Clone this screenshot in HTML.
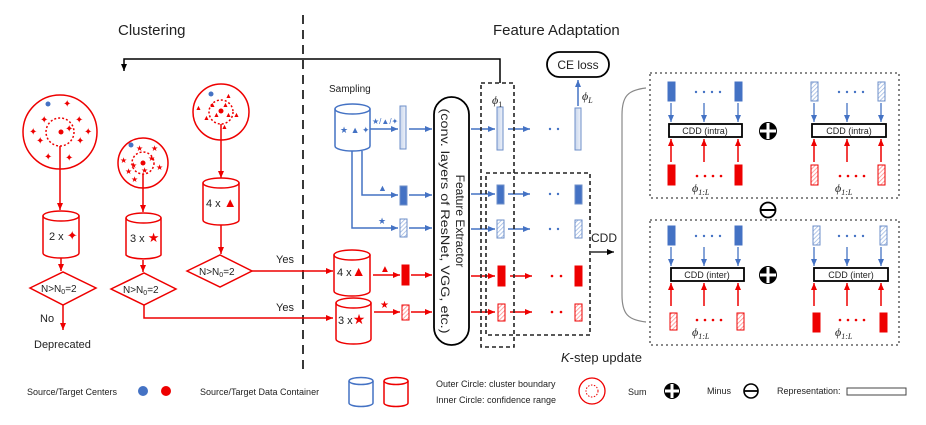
<!DOCTYPE html>
<html><head><meta charset="utf-8"><style>
html,body{margin:0;padding:0;background:#fff;}
svg{display:block;font-family:"Liberation Sans",sans-serif;}
</style></head><body>
<svg width="926" height="425" viewBox="0 0 926 425" xmlns="http://www.w3.org/2000/svg">
<defs>
<marker id="ar" markerWidth="8" markerHeight="8" refX="7" refY="4" orient="auto" markerUnits="userSpaceOnUse"><path d="M0,1 L7,4 L0,7z" fill="#e00"/></marker>
<marker id="ab" markerWidth="8" markerHeight="8" refX="7" refY="4" orient="auto" markerUnits="userSpaceOnUse"><path d="M0,1 L7,4 L0,7z" fill="#4472c4"/></marker>
<marker id="ak" markerWidth="8" markerHeight="8" refX="7" refY="4" orient="auto" markerUnits="userSpaceOnUse"><path d="M0,1 L7,4 L0,7z" fill="#000"/></marker>
<pattern id="hr" width="3" height="3" patternUnits="userSpaceOnUse" patternTransform="rotate(45)"><rect width="3" height="3" fill="#fff"/><line x1="0" y1="0" x2="0" y2="3" stroke="#f88" stroke-width="1.5"/></pattern>
<pattern id="hb" width="3" height="3" patternUnits="userSpaceOnUse" patternTransform="rotate(45)"><rect width="3" height="3" fill="#fff"/><line x1="0" y1="0" x2="0" y2="3" stroke="#9bb5e0" stroke-width="1.5"/></pattern>
<linearGradient id="gb" x1="0" x2="1"><stop offset="0" stop-color="#c9d6ec"/><stop offset="1" stop-color="#eef2fa"/></linearGradient>
</defs>

<text x="118" y="35" font-size="15" fill="#222">Clustering</text>
<text x="493" y="35" font-size="15" fill="#222">Feature Adaptation</text>
<line x1="303" y1="15" x2="303" y2="372" stroke="#222" stroke-width="1.8" stroke-dasharray="9,6"/>

<polyline points="500,83 500,59 124,59 124,71" fill="none" stroke="#000" stroke-width="1.5" marker-end="url(#ak)"/>

<g stroke="#e00" fill="none" stroke-width="1.5">
<circle cx="60" cy="132" r="37"/>
<circle cx="60" cy="132" r="14" stroke-dasharray="2,2"/>
<line x1="60" y1="146" x2="60" y2="210" marker-end="url(#ar)"/>
<path d="M43,216 v37 a18,5 0 0 0 36,0 v-37"/><ellipse cx="61" cy="216" rx="18" ry="5"/>
<line x1="61" y1="258" x2="61" y2="271" marker-end="url(#ar)"/>
<polygon points="30,288 63,272 96,288 63,305"/>
<line x1="63" y1="305" x2="63" y2="330" marker-end="url(#ar)"/>
<circle cx="143" cy="163" r="25"/>
<circle cx="143" cy="163" r="11" stroke-dasharray="2,2"/>
<line x1="143" y1="174" x2="143" y2="212" marker-end="url(#ar)"/>
<path d="M126,218 v37 a18,5 0 0 0 35,0 v-37"/><ellipse cx="143.5" cy="218" rx="17.5" ry="5"/>
<line x1="143" y1="260" x2="143" y2="272" marker-end="url(#ar)"/>
<polygon points="111,289 144,273 176,289 144,305"/>
<polyline points="144,305 144,318 333,318" marker-end="url(#ar)"/>
<circle cx="221" cy="112" r="28"/>
<circle cx="221" cy="112" r="12" stroke-dasharray="2,2"/>
<line x1="221" y1="124" x2="221" y2="178" marker-end="url(#ar)"/>
<path d="M203,183 v37 a18,5 0 0 0 36,0 v-37"/><ellipse cx="221" cy="183" rx="18" ry="5"/>
<line x1="221" y1="225" x2="221" y2="254" marker-end="url(#ar)"/>
<polygon points="187,271 220,255 252,271 220,287"/>
<line x1="252" y1="271" x2="333" y2="271" marker-end="url(#ar)"/>
</g>
<g fill="#e00" font-size="10">
<circle cx="61" cy="132" r="2.5"/><circle cx="143" cy="163" r="2.5"/><circle cx="221" cy="111" r="2.5"/>
<text x="63" y="107">✦</text><text x="40" y="123">✦</text><text x="75" y="123">✦</text><text x="29" y="135">✦</text><text x="84" y="135">✦</text><text x="65" y="132">✦</text><text x="36" y="144">✦</text><text x="76" y="144">✦</text><text x="44" y="160">✦</text><text x="65" y="161">✦</text>
<text x="136" y="151" font-size="8">★</text><text x="151" y="151" font-size="8">★</text><text x="120" y="163" font-size="8">★</text><text x="148" y="161" font-size="8">★</text><text x="130" y="168" font-size="8">★</text><text x="156" y="170" font-size="8">★</text><text x="125" y="174" font-size="8">★</text><text x="141" y="173" font-size="8">★</text><text x="131" y="182" font-size="8">★</text>
<text x="225" y="98" font-size="7">▲</text><text x="195" y="110" font-size="7">▲</text><text x="209" y="107" font-size="7">▲</text><text x="222" y="107" font-size="7">▲</text><text x="203" y="120" font-size="7">▲</text><text x="213" y="117" font-size="7">▲</text><text x="225" y="117" font-size="7">▲</text><text x="233" y="117" font-size="7">▲</text><text x="221" y="129" font-size="7">▲</text>
</g>
<g fill="#4472c4"><circle cx="48" cy="104" r="2.5"/><circle cx="131" cy="145" r="2.5"/><circle cx="211" cy="94" r="2.5"/></g>
<g font-size="11" fill="#222">
<text x="49" y="240">2 x <tspan fill="#e00" font-size="13">✦</tspan></text>
<text x="130" y="242">3 x <tspan fill="#e00" font-size="13">★</tspan></text>
<text x="206" y="207">4 x <tspan fill="#e00" font-size="13">▲</tspan></text>
<text x="41" y="292" font-size="10">N&gt;N<tspan font-size="7" dy="2">0</tspan><tspan dy="-2">=2</tspan></text>
<text x="123" y="293" font-size="10">N&gt;N<tspan font-size="7" dy="2">0</tspan><tspan dy="-2">=2</tspan></text>
<text x="199" y="275" font-size="10">N&gt;N<tspan font-size="7" dy="2">0</tspan><tspan dy="-2">=2</tspan></text>
<text x="40" y="322">No</text>
<text x="34" y="348">Deprecated</text>
<text x="276" y="263">Yes</text>
<text x="276" y="311">Yes</text>
<text x="329" y="92" font-size="10">Sampling</text>
</g>

<g stroke="#4472c4" fill="none" stroke-width="1.5">
<path d="M335,109 v37 a17.5,5 0 0 0 35,0 v-37"/><ellipse cx="352.5" cy="109" rx="17.5" ry="5"/>
<line x1="370" y1="129" x2="398" y2="129" marker-end="url(#ab)"/>
<polyline points="362,151 362,195 398,195" marker-end="url(#ab)"/>
<polyline points="352,151 352,228 398,228" marker-end="url(#ab)"/>
<line x1="409" y1="129" x2="432" y2="129" marker-end="url(#ab)"/>
<line x1="409" y1="195" x2="432" y2="195" marker-end="url(#ab)"/>
<line x1="409" y1="228" x2="432" y2="228" marker-end="url(#ab)"/>
<line x1="471" y1="129" x2="495" y2="129" marker-end="url(#ab)"/>
<line x1="471" y1="194" x2="495" y2="194" marker-end="url(#ab)"/>
<line x1="471" y1="229" x2="495" y2="229" marker-end="url(#ab)"/>
<line x1="508" y1="129" x2="530" y2="129" marker-end="url(#ab)"/>
<line x1="508" y1="194" x2="530" y2="194" marker-end="url(#ab)"/>
<line x1="508" y1="229" x2="530" y2="229" marker-end="url(#ab)"/>
<line x1="578" y1="106" x2="578" y2="80" marker-end="url(#ab)"/>
</g>
<g fill="#4472c4" font-size="9">
<text x="340" y="133">★ ▲ ✦</text>
<text x="372" y="124" font-size="8">★/▲/✦</text>
<text x="378" y="191" font-size="9">▲</text>
<text x="378" y="224" font-size="9">★</text>
</g>
<g stroke="#6e8fc9" stroke-width="1">
<rect x="400" y="106" width="6" height="43" fill="url(#gb)"/>
<rect x="400" y="186" width="7" height="19" fill="#4472c4"/>
<rect x="400" y="219" width="7" height="18" fill="url(#hb)"/>
<rect x="497" y="107" width="6" height="43" fill="url(#gb)"/>
<rect x="575" y="108" width="6" height="42" fill="url(#gb)"/>
<rect x="497" y="185" width="7" height="19" fill="#4472c4"/>
<rect x="575" y="185" width="7" height="19" fill="#4472c4"/>
<rect x="497" y="220" width="7" height="18" fill="url(#hb)"/>
<rect x="575" y="220" width="7" height="18" fill="url(#hb)"/>
</g>
<g fill="#4472c4"><circle cx="550" cy="129" r="1.2"/><circle cx="558" cy="129" r="1.2"/><circle cx="550" cy="194" r="1.2"/><circle cx="558" cy="194" r="1.2"/><circle cx="550" cy="229" r="1.2"/><circle cx="558" cy="229" r="1.2"/></g>

<g stroke="#e00" fill="none" stroke-width="1.5">
<path d="M334,255 v36 a18,5 0 0 0 36,0 v-36"/><ellipse cx="352" cy="255" rx="18" ry="5"/>
<path d="M336,303 v36 a17.5,5 0 0 0 35,0 v-36"/><ellipse cx="353.5" cy="303" rx="17.5" ry="5"/>
<line x1="373" y1="275" x2="400" y2="275" marker-end="url(#ar)"/>
<line x1="374" y1="312" x2="400" y2="312" marker-end="url(#ar)"/>
<line x1="411" y1="275" x2="432" y2="275" marker-end="url(#ar)"/>
<line x1="411" y1="312" x2="432" y2="312" marker-end="url(#ar)"/>
<line x1="471" y1="276" x2="495" y2="276" marker-end="url(#ar)"/>
<line x1="471" y1="312" x2="495" y2="312" marker-end="url(#ar)"/>
<line x1="510" y1="276" x2="532" y2="276" marker-end="url(#ar)"/>
<line x1="510" y1="312" x2="532" y2="312" marker-end="url(#ar)"/>
</g>
<g fill="#e00"><text x="380" y="272" font-size="10">▲</text><text x="380" y="308" font-size="10">★</text>
<circle cx="552" cy="276" r="1.3"/><circle cx="561" cy="276" r="1.3"/><circle cx="552" cy="312" r="1.3"/><circle cx="561" cy="312" r="1.3"/></g>
<g font-size="11" fill="#222"><text x="337" y="276">4 x<tspan fill="#e00" font-size="14">▲</tspan></text><text x="338" y="324">3 x<tspan fill="#e00" font-size="14">★</tspan></text></g>
<g stroke="#e00" stroke-width="1">
<rect x="402" y="265" width="7" height="20" fill="#e00"/>
<rect x="402" y="305" width="7" height="15" fill="url(#hr)"/>
<rect x="498" y="266" width="7" height="20" fill="#e00"/>
<rect x="575" y="266" width="7" height="20" fill="#e00"/>
<rect x="498" y="304" width="7" height="17" fill="url(#hr)"/>
<rect x="575" y="304" width="7" height="17" fill="url(#hr)"/>
</g>

<rect x="434" y="97" width="35" height="248" rx="17.5" fill="#fff" stroke="#000" stroke-width="1.8"/>
<g transform="translate(452,221) rotate(90)" font-size="12" fill="#222" text-anchor="middle">
<text x="0" y="-4">Feature Extractor</text>
<text x="0" y="11" textLength="225" lengthAdjust="spacingAndGlyphs">(conv. layers of ResNet, VGG, etc.)</text>
</g>

<g fill="none" stroke="#222" stroke-width="1.6" stroke-dasharray="4,3">
<rect x="481" y="83" width="33" height="264"/>
<rect x="486" y="173" width="104" height="162"/>
</g>
<text x="492" y="104" font-size="12" font-style="italic" fill="#222" font-family="Liberation Serif,serif">ϕ<tspan font-size="8" dy="3" font-style="normal">1</tspan></text>
<text x="582" y="100" font-size="12" font-style="italic" fill="#222" font-family="Liberation Serif,serif">ϕ<tspan font-size="8" dy="3">L</tspan></text>
<rect x="547" y="52" width="62" height="25" rx="12.5" fill="#fff" stroke="#000" stroke-width="1.8"/>
<text x="578" y="69" font-size="12" text-anchor="middle" fill="#222">CE loss</text>
<text x="591" y="242" font-size="12" fill="#222">CDD</text>
<line x1="591" y1="252" x2="614" y2="252" stroke="#000" stroke-width="1.3" marker-end="url(#ak)"/>
<text x="561" y="362" font-size="13" fill="#222"><tspan font-style="italic">K</tspan>-step update</text>

<path d="M646,88 C628,90 622,96 622,115 L622,295 C622,314 628,320 646,322" fill="none" stroke="#888" stroke-width="1.2"/>

<g fill="none" stroke="#444" stroke-width="1.3" stroke-dasharray="2,3">
<rect x="650" y="73" width="249" height="125"/>
<rect x="650" y="220" width="249" height="125"/>
</g>

<g id="grp">
<g stroke="#4472c4" stroke-width="1.3"><line x1="671" y1="103" x2="671" y2="122" marker-end="url(#ab)"/><line x1="704" y1="103" x2="704" y2="122" marker-end="url(#ab)"/><line x1="738" y1="103" x2="738" y2="122" marker-end="url(#ab)"/></g>
<g stroke="#e00" stroke-width="1.5"><line x1="671" y1="162" x2="671" y2="139" marker-end="url(#ar)"/><line x1="704" y1="162" x2="704" y2="139" marker-end="url(#ar)"/><line x1="738" y1="162" x2="738" y2="139" marker-end="url(#ar)"/></g>
<g fill="#4472c4"><circle cx="696" cy="92" r="1.2"/><circle cx="704" cy="92" r="1.2"/><circle cx="712" cy="92" r="1.2"/><circle cx="720" cy="92" r="1.2"/></g>
<g fill="#e00"><circle cx="697" cy="176" r="1.3"/><circle cx="705" cy="176" r="1.3"/><circle cx="713" cy="176" r="1.3"/><circle cx="721" cy="176" r="1.3"/></g>
<text x="692" y="192" font-size="12" font-style="italic" fill="#222" font-family="Liberation Serif,serif">ϕ<tspan font-size="8" dy="3">1:L</tspan></text>
</g>
<use href="#grp" x="143"/><use href="#grp" y="144"/><use href="#grp" x="143" y="144"/>

<g stroke-width="1">
<rect x="668" y="82" width="7" height="19" fill="#4472c4" stroke="#4472c4"/><rect x="735" y="82" width="7" height="19" fill="#4472c4" stroke="#4472c4"/>
<rect x="668" y="165" width="7" height="20" fill="#e00" stroke="#e00"/><rect x="735" y="165" width="7" height="20" fill="#e00" stroke="#e00"/>
<rect x="811" y="82" width="7" height="19" fill="url(#hb)" stroke="#6e8fc9"/><rect x="878" y="82" width="7" height="19" fill="url(#hb)" stroke="#6e8fc9"/>
<rect x="811" y="165" width="7" height="20" fill="url(#hr)" stroke="#e00"/><rect x="878" y="165" width="7" height="20" fill="url(#hr)" stroke="#e00"/>
<rect x="668" y="226" width="7" height="19" fill="#4472c4" stroke="#4472c4"/><rect x="735" y="226" width="7" height="19" fill="#4472c4" stroke="#4472c4"/>
<rect x="670" y="313" width="7" height="17" fill="url(#hr)" stroke="#e00"/><rect x="737" y="313" width="7" height="17" fill="url(#hr)" stroke="#e00"/>
<rect x="813" y="226" width="7" height="19" fill="url(#hb)" stroke="#6e8fc9"/><rect x="880" y="226" width="7" height="19" fill="url(#hb)" stroke="#6e8fc9"/>
<rect x="813" y="313" width="7" height="19" fill="#e00" stroke="#e00"/><rect x="880" y="313" width="7" height="19" fill="#e00" stroke="#e00"/>
</g>
<g fill="#fff" stroke="#000" stroke-width="1.8">
<rect x="669" y="124" width="73" height="13"/><rect x="812" y="124" width="74" height="13"/>
<rect x="671" y="268" width="73" height="13"/><rect x="814" y="268" width="74" height="13"/>
</g>
<g font-size="9" fill="#222" text-anchor="middle">
<text x="705" y="134">CDD (intra)</text><text x="849" y="134">CDD (intra)</text>
<text x="707" y="278">CDD (inter)</text><text x="851" y="278">CDD (inter)</text>
</g>
<g>
<circle cx="768" cy="131" r="9" fill="#000"/><rect x="766.5" y="123" width="3" height="16" fill="#fff"/><rect x="760" y="129.5" width="16" height="3" fill="#fff"/>
<circle cx="768" cy="275" r="9" fill="#000"/><rect x="766.5" y="267" width="3" height="16" fill="#fff"/><rect x="760" y="273.5" width="16" height="3" fill="#fff"/>
<circle cx="768" cy="210" r="7.5" fill="#fff" stroke="#000" stroke-width="1.8"/><line x1="760" y1="210" x2="776" y2="210" stroke="#000" stroke-width="2"/>
</g>

<g font-size="9" fill="#222">
<text x="27" y="395">Source/Target Centers</text>
<text x="200" y="395">Source/Target Data Container</text>
<text x="436" y="387">Outer Circle: cluster boundary</text>
<text x="436" y="403">Inner Circle: confidence range</text>
<text x="628" y="395">Sum</text>
<text x="707" y="394">Minus</text>
<text x="777" y="394">Representation:</text>
</g>
<circle cx="143" cy="391" r="5" fill="#4472c4"/><circle cx="166" cy="391" r="5" fill="#e00"/>
<path d="M349,381 v22 a12,3.5 0 0 0 24,0 v-22" fill="none" stroke="#4472c4" stroke-width="1.5"/><ellipse cx="361" cy="381" rx="12" ry="3.5" fill="none" stroke="#4472c4" stroke-width="1.5"/>
<path d="M384,381 v22 a12,3.5 0 0 0 24,0 v-22" fill="none" stroke="#e00" stroke-width="1.5"/><ellipse cx="396" cy="381" rx="12" ry="3.5" fill="none" stroke="#e00" stroke-width="1.5"/>
<circle cx="592" cy="391" r="13" fill="none" stroke="#e00" stroke-width="1.3"/><circle cx="592" cy="391" r="6" fill="none" stroke="#e00" stroke-width="1" stroke-dasharray="1.5,1.5"/>
<circle cx="672" cy="391" r="8" fill="#000"/><rect x="670.5" y="384" width="3" height="14" fill="#fff"/><rect x="665" y="389.5" width="14" height="3" fill="#fff"/>
<circle cx="751" cy="391" r="7" fill="#fff" stroke="#000" stroke-width="1.6"/><line x1="744" y1="391" x2="758" y2="391" stroke="#000" stroke-width="1.8"/>
<rect x="847" y="388" width="59" height="7" fill="#fff" stroke="#444" stroke-width="1"/>
</svg>
</body></html>
